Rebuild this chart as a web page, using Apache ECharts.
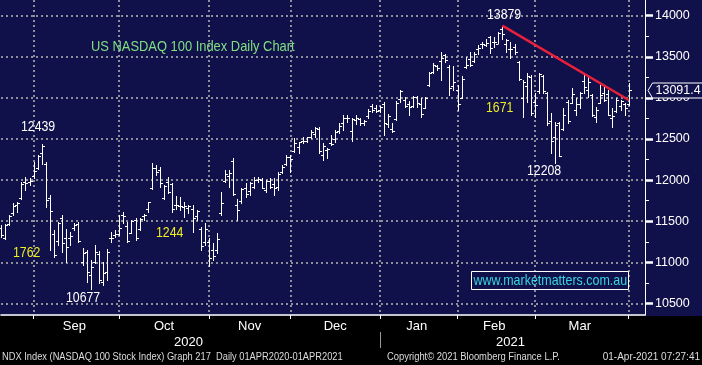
<!DOCTYPE html>
<html><head><meta charset="utf-8">
<script src="https://cdn.jsdelivr.net/npm/echarts@6/dist/echarts.min.js"></script>
<style>html,body{margin:0;padding:0;background:#10104a;}#c{width:702px;height:365px;}</style>
</head><body><div id="c"></div>
<script>
// ---- data ----
const dates = [
'2020-08-19','2020-08-20','2020-08-21','2020-08-24','2020-08-25','2020-08-26','2020-08-27','2020-08-28','2020-08-31',
'2020-09-01','2020-09-02','2020-09-03','2020-09-04','2020-09-08','2020-09-09','2020-09-10','2020-09-11','2020-09-14','2020-09-15','2020-09-16','2020-09-17','2020-09-18','2020-09-21','2020-09-22','2020-09-23','2020-09-24','2020-09-25','2020-09-28','2020-09-29','2020-09-30',
'2020-10-01','2020-10-02','2020-10-05','2020-10-06','2020-10-07','2020-10-08','2020-10-09','2020-10-12','2020-10-13','2020-10-14','2020-10-15','2020-10-16','2020-10-19','2020-10-20','2020-10-21','2020-10-22','2020-10-23','2020-10-26','2020-10-27','2020-10-28','2020-10-29','2020-10-30',
'2020-11-02','2020-11-03','2020-11-04','2020-11-05','2020-11-06','2020-11-09','2020-11-10','2020-11-11','2020-11-12','2020-11-13','2020-11-16','2020-11-17','2020-11-18','2020-11-19','2020-11-20','2020-11-23','2020-11-24','2020-11-25','2020-11-27','2020-11-30',
'2020-12-01','2020-12-02','2020-12-03','2020-12-04','2020-12-07','2020-12-08','2020-12-09','2020-12-10','2020-12-11','2020-12-14','2020-12-15','2020-12-16','2020-12-17','2020-12-18','2020-12-21','2020-12-22','2020-12-23','2020-12-24','2020-12-28','2020-12-29','2020-12-30','2020-12-31',
'2021-01-04','2021-01-05','2021-01-06','2021-01-07','2021-01-08','2021-01-11','2021-01-12','2021-01-13','2021-01-14','2021-01-15','2021-01-19','2021-01-20','2021-01-21','2021-01-22','2021-01-25','2021-01-26','2021-01-27','2021-01-28','2021-01-29',
'2021-02-01','2021-02-02','2021-02-03','2021-02-04','2021-02-05','2021-02-08','2021-02-09','2021-02-10','2021-02-11','2021-02-12','2021-02-16','2021-02-17','2021-02-18','2021-02-19','2021-02-22','2021-02-23','2021-02-24','2021-02-25','2021-02-26',
'2021-03-01','2021-03-02','2021-03-03','2021-03-04','2021-03-05','2021-03-08','2021-03-09','2021-03-10','2021-03-11','2021-03-12','2021-03-15','2021-03-16','2021-03-17','2021-03-18','2021-03-19','2021-03-22','2021-03-23','2021-03-24','2021-03-25','2021-03-26','2021-03-29','2021-03-30','2021-03-31'];
const futureDates = ['2021-04-01','2021-04-05','2021-04-06','2021-04-07'];
const opens = [11420,11300,11470,11600,11700,11780,11980,11980,12050,
12150,12330,12200,11780,11350,11260,11540,11300,11300,11420,11470,11000,11120,10850,11000,11100,10760,10880,11300,11330,11350,
11580,11440,11360,11510,11400,11560,11650,11900,12150,12120,11780,11980,11950,11700,11680,11670,11660,11650,11560,11400,11250,11250,
11150,11150,11600,11990,12050,12230,11700,11750,11900,11870,11920,12000,12000,11880,11990,11950,11920,12100,12200,12280,
12360,12400,12470,12480,12520,12560,12620,12300,12370,12450,12500,12600,12700,12760,12600,12730,12740,12700,12780,12900,12880,12850,
12930,12680,12620,12740,12990,12980,12920,12900,13010,12930,12880,13160,13320,13390,13450,13520,13380,13150,13100,
13000,13370,13470,13450,13600,13650,13640,13740,13680,13660,13840,13660,13600,13620,13440,13000,13150,13250,12950,
13080,13270,13060,12720,12530,12690,12620,12950,12940,12850,12920,13200,13100,13035,12770,12940,13060,13050,12760,12840,12900,12920,12930];
const highs = [11455,11465,11576,11718,11738,11981,12042,12022,12225,
12306,12439,12225,11820,11393,11495,11576,11410,11373,11474,11487,11170,11150,11028,11211,11140,11000,11160,11373,11393,11576,
11616,11495,11515,11535,11535,11588,11738,12204,12184,12164,11941,12042,11969,11807,11791,11738,11697,11697,11637,11434,11474,11292,
11231,11353,11860,12123,12123,12265,11766,11900,11969,11981,12042,12042,12022,12001,12022,12022,12103,12184,12306,12300,
12508,12468,12528,12528,12610,12650,12650,12447,12387,12549,12610,12691,12792,12792,12760,12790,12760,12730,12860,12920,12914,12900,
12946,12800,12700,12962,13096,13015,12962,13027,13027,12995,13015,13319,13420,13400,13554,13530,13400,13392,13157,
13270,13502,13554,13554,13644,13684,13717,13757,13745,13798,13879,13720,13684,13660,13450,13218,13299,13279,13056,
13299,13280,13076,12812,12711,12711,12873,12974,13116,12995,13076,13279,13258,13050,12893,13157,13137,13096,12873,12995,12974,12934,13177];
const lows = [11310,11285,11455,11580,11616,11770,11880,11940,12020,
12140,12200,11677,11150,11069,11211,11130,11000,11211,11393,11251,10967,10765,10677,10990,10750,10720,10790,11251,11312,11333,
11474,11251,11353,11272,11393,11515,11616,11890,12062,11920,11766,11847,11616,11645,11637,11547,11596,11373,11515,11150,11211,10960,
11028,11109,11580,11981,11920,11820,11515,11717,11799,11819,11900,11981,11900,11860,11900,11819,11880,12082,12180,12103,
12346,12326,12447,12468,12508,12528,12326,12245,12265,12427,12468,12569,12610,12711,12480,12680,12670,12670,12760,12830,12833,12830,
12549,12640,12580,12731,12954,12893,12792,12893,12893,12772,12873,13149,13299,13340,13218,13440,13035,13096,12853,
12995,13360,13392,13441,13530,13603,13635,13542,13623,13664,13720,13560,13481,13540,13218,12772,12954,12792,12772,
13056,13060,12670,12326,12208,12290,12610,12700,12934,12792,12880,13056,13015,12780,12711,12934,12960,12792,12650,12832,12853,12792,12914];
const closes = [11330,11455,11560,11690,11720,11950,11960,11995,12110,
12290,12420,11760,11630,11090,11480,11230,11190,11320,11456,11260,11110,10880,10940,11130,10780,10870,11130,11300,11340,11420,
11560,11260,11500,11300,11530,11580,11730,12150,12100,11960,11930,11860,11650,11700,11680,11680,11680,11540,11620,11200,11400,11050,
11080,11280,11720,12080,12090,11830,11640,11890,11830,11960,12000,12010,11910,11990,11920,11900,12080,12160,12280,12260,
12450,12460,12480,12520,12580,12630,12350,12420,12380,12440,12590,12660,12760,12750,12740,12760,12700,12720,12840,12850,12845,12888,
12694,12780,12600,12940,13090,12900,12890,13010,12940,12800,12998,13297,13404,13366,13482,13465,13119,13188,12925,
13232,13403,13400,13540,13612,13661,13669,13613,13685,13790,13773,13700,13590,13560,13230,13190,13271,12820,12909,
13290,13080,12700,12480,12668,12299,12795,12723,13045,12920,13060,13130,13190,12790,12858,13033,12980,12796,12777,12977,12960,12880,13091.44];
const yTickValues = [10500,11000,11500,12000,12500,13000,13500,14000];
const yMinorValues = [10750,11250,11750,12250,12750,13250,13750];
const trendStart = ['2021-02-16', 13879];
const trendEnd = ['2021-03-31', 12974];
const lastPrice = 13091.44;

// ---- styling ----
const FF = "'Liberation Sans',Arial,sans-serif";
const AX = 12.5;
const NAVY = '#10104a';
const GRID_C = '#8e8e98';
const MON = ['Jan','Feb','Mar','Apr','May','Jun','Jul','Aug','Sep','Oct','Nov','Dec'];

const cats = dates.concat(futureDates);
const mon = s => +s.slice(5,7);
const yr = s => s.slice(0,4);
const monthEnds = [];
const yearEnds = [];
for (let i = 0; i < cats.length - 1; i++) {
  if (mon(cats[i]) !== mon(cats[i+1])) monthEnds.push(i);
  if (yr(cats[i]) !== yr(cats[i+1]) && i < dates.length - 1) yearEnds.push(i);
}
const monthEndSet = new Set(monthEnds);
const monthMidSet = new Set();
for (let k = 1; k < monthEnds.length; k++) monthMidSet.add(Math.floor((monthEnds[k-1] + monthEnds[k]) / 2));
const yb = [0].concat(yearEnds).concat([cats.length - 1]);
const yearMidSet = new Set();
for (let k = 1; k < yb.length; k++) yearMidSet.add(Math.floor((yb[k-1] + yb[k]) / 2));
const yearEndSet = new Set(yearEnds);

const ohlc = dates.map((d, i) => [i, opens[i], highs[i], lows[i], closes[i]]);

const chart = echarts.init(document.getElementById('c'), null, {renderer: 'canvas'});
// condensed look: regular font squeezed horizontally
const txt = (text, x, y, fill, size, sx, family, align) => ({
  type: 'text', x: x, y: y, scaleX: sx, z: 20,
  style: {text, x: 0, y: 0, fill, fontSize: size, fontFamily: family || FF, verticalAlign: 'middle', align: align || 'left'}
});
chart.setOption({
  animation: false,
  backgroundColor: NAVY,
  grid: {left: 1, right: 57, top: 0, bottom: 50, containLabel: false},
  xAxis: [{
    type: 'category', data: cats, boundaryGap: false,
    axisLine: {show: true, lineStyle: {color: '#fff', width: 1.5}},
    axisTick: {show: true, interval: i => monthEndSet.has(i), length: 4, lineStyle: {color: '#fff'}},
    axisLabel: {interval: i => monthMidSet.has(i), formatter: v => MON[mon(v) - 1], color: '#fff', fontFamily: FF, fontSize: 13, margin: 5},
    splitLine: {show: true, interval: i => monthEndSet.has(i), lineStyle: {color: GRID_C, type: [2, 3], width: 2}}
  }, {
    type: 'category', data: cats, boundaryGap: false, position: 'bottom', offset: 17,
    axisLine: {show: false},
    axisTick: {show: true, interval: i => yearEndSet.has(i), length: 16, lineStyle: {color: '#9a9a9a', width: 1}},
    axisLabel: {interval: i => yearMidSet.has(i), formatter: v => yr(v), color: '#fff', fontFamily: FF, fontSize: 13, margin: 4},
    splitLine: {show: false}
  }],
  yAxis: [{
    type: 'value', position: 'right', min: 10359, max: 14191,
    axisLine: {show: true, lineStyle: {color: '#fff', width: 1}},
    axisTick: {show: true, customValues: yTickValues, length: 8, lineStyle: {color: '#fff', width: 2.5}},
    axisLabel: {customValues: yTickValues, formatter: v => String(v), color: '#fff', fontFamily: FF, fontSize: AX, margin: 10},
    splitLine: {show: true, lineStyle: {color: GRID_C, type: [2, 3], width: 2}}
  }, {
    type: 'value', position: 'right', min: 10359, max: 14191,
    axisLine: {show: false},
    axisTick: {show: true, customValues: yMinorValues, length: 4, lineStyle: {color: '#fff', width: 1}},
    axisLabel: {show: false},
    splitLine: {show: false}
  }],
  series: [{
    type: 'custom', xAxisIndex: 0, yAxisIndex: 0, data: ohlc, z: 4,
    encode: {x: 0, y: [1, 2, 3, 4]},
    renderItem: function (params, api) {
      const i = api.value(0);
      const p = v => api.coord([i, v]);
      const x = Math.round(p(api.value(1))[0]) + 0.5;
      const yO = Math.round(p(api.value(1))[1]) + 0.5;
      const yH = Math.round(p(api.value(2))[1]);
      const yL = Math.round(p(api.value(3))[1]) + 1;
      const yC = Math.round(p(api.value(4))[1]) + 0.5;
      const st = {stroke: '#ffffff', lineWidth: 1};
      return {type: 'group', children: [
        {type: 'line', shape: {x1: x, y1: yH, x2: x, y2: yL}, style: st},
        {type: 'line', shape: {x1: x - 2.5, y1: yO, x2: x, y2: yO}, style: st},
        {type: 'line', shape: {x1: x, y1: yC, x2: x + 2.5, y2: yC}, style: st}
      ]};
    }
  }, {
    type: 'line', xAxisIndex: 0, yAxisIndex: 0, z: 6,
    data: [trendStart, trendEnd], symbol: 'none',
    lineStyle: {color: '#e8203a', width: 2.5}
  }, {
    // last-price tag on the value axis
    type: 'custom', xAxisIndex: 0, yAxisIndex: 0, z: 10, clip: false,
    data: [[dates.length - 1, lastPrice]], encode: {x: 0, y: 1},
    renderItem: function (params, api) {
      const pt = api.coord([api.value(0), api.value(1)]);
      const x0 = params.coordSys.x + params.coordSys.width + 3;
      const y = Math.round(pt[1]) + 0.5;
      return {type: 'group', children: [
        {type: 'polygon', shape: {points: [[x0, y], [x0 + 4.5, y - 7.5], [x0 + 62, y - 7.5], [x0 + 62, y + 7.5], [x0 + 4.5, y + 7.5]]},
          style: {fill: NAVY, stroke: '#ffffff', lineWidth: 1}},
        {type: 'text', style: {text: api.value(1).toFixed(1), x: x0 + 7.5, y: y + 0.5, fill: '#ffffff', fontSize: AX, fontFamily: FF, verticalAlign: 'middle'}}
      ]};
    }
  }],
  graphic: {elements: [
    {type: 'rect', z: -10, shape: {x: 0, y: 316, width: 702, height: 49}, style: {fill: '#000'}},
    txt('US NASDAQ 100 Index Daily Chart', 91, 47, '#80e080', 15, 0.86),
    txt('12439', 21, 127, '#ffffff', 15, 0.82),
    txt('1762', 13, 253, '#eeee22', 15, 0.82),
    txt('10677', 66, 298, '#ffffff', 15, 0.82),
    txt('1244', 156, 233, '#eeee22', 15, 0.82),
    txt('13879', 487, 15, '#ffffff', 15, 0.82),
    txt('1671', 486, 107.5, '#eeee22', 15, 0.82),
    txt('12208', 527, 171, '#ffffff', 15, 0.82),
    {type: 'rect', z: 19, shape: {x: 471.5, y: 271.5, width: 157, height: 18}, style: {fill: 'none', stroke: '#ffffff', lineWidth: 1}},
    txt('www.marketmatters.com.au', 473.5, 280.5, '#3ad4e0', 15, 0.83),
    txt('NDX Index (NASDAQ 100 Stock Index) Graph 217  Daily 01APR2020-01APR2021', 2, 357.5, '#dcdcdc', 10, 0.93),
    txt('Copyright\u00a9 2021 Bloomberg Finance L.P.', 387, 357.5, '#dcdcdc', 10, 0.94),
    txt('01-Apr-2021 07:27:41', 700, 357.5, '#dcdcdc', 10, 1, FF, 'right')
  ]}
});
</script></body></html>
